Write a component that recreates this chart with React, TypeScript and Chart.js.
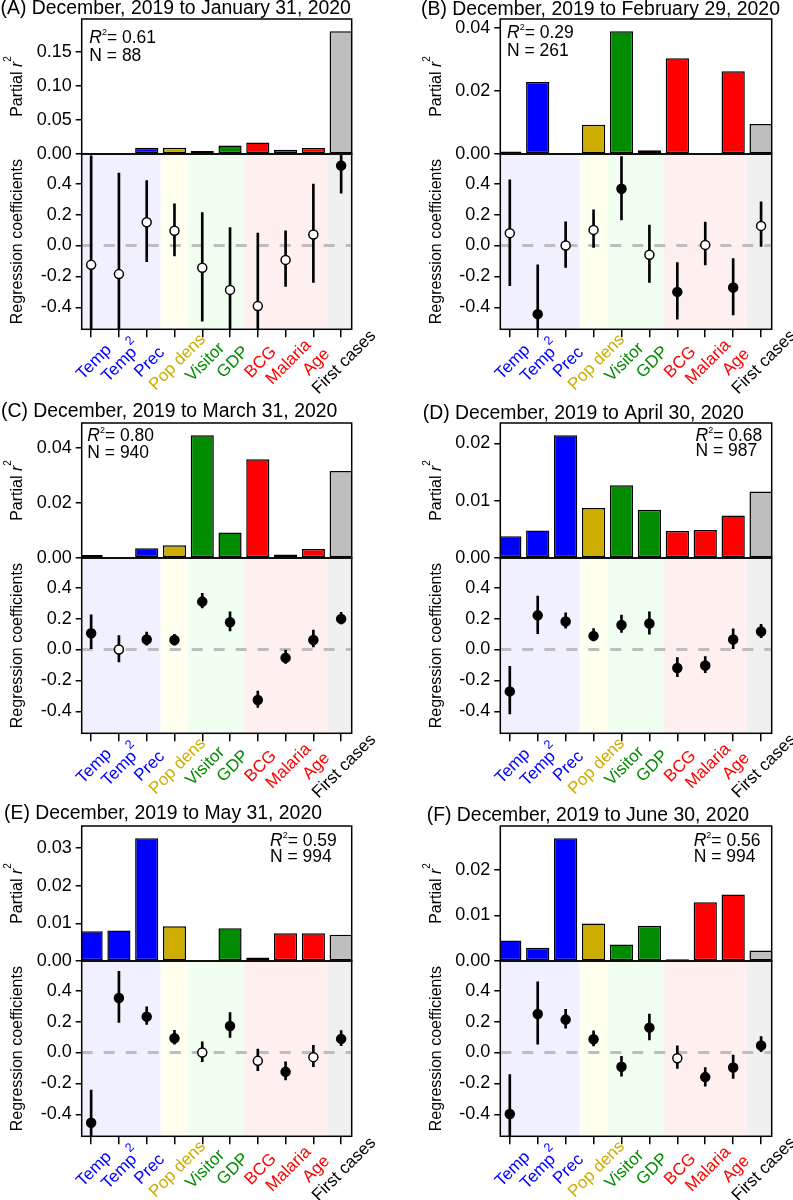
import React, { useEffect, useRef } from "react";
import { Chart, registerables } from "chart.js";

Chart.register(...registerables);

// ---------------- data ----------------
const CATEGORIES = ["Temp", "Temp²", "Prec", "Pop dens", "Visitor", "GDP", "BCG", "Malaria", "Age", "First cases"];
const CATEGORY_GROUP = [0, 0, 0, 1, 2, 2, 3, 3, 3, 4];

const PANEL_TITLES = [
  "(A) December, 2019 to January 31, 2020",
  "(B) December, 2019 to February 29, 2020",
  "(C) December, 2019 to March 31, 2020",
  "(D) December, 2019 to April 30, 2020",
  "(E) December, 2019 to May 31, 2020",
  "(F) December, 2019 to June 30, 2020",
];
const MODEL_R2 = ["0.61", "0.29", "0.80", "0.68", "0.59", "0.56"];
const MODEL_N = ["88", "261", "940", "987", "994", "994"];

const PARTIAL_R2_A = [0.0004, 0.0015, 0.0093, 0.0093, 0.0044, 0.0123, 0.0167, 0.0064, 0.0088, 0.18];
const PARTIAL_R2_B = [0.0008, 0.0229, 0.0, 0.0093, 0.039, 0.0012, 0.0304, 0.0002, 0.0263, 0.0095];
const PARTIAL_R2_C = [0.0011, 0.0, 0.0035, 0.0046, 0.0446, 0.0093, 0.0359, 0.0013, 0.0033, 0.0316];
const PARTIAL_R2_D = [0.0038, 0.0048, 0.0214, 0.0087, 0.0127, 0.0084, 0.0047, 0.0049, 0.0074, 0.0116];
const PARTIAL_R2_E = [0.0079, 0.0081, 0.0326, 0.0092, 0.0, 0.0087, 0.0009, 0.0074, 0.0074, 0.007];
const PARTIAL_R2_F = [0.0045, 0.0029, 0.0269, 0.0082, 0.0036, 0.0077, 0.0004, 0.0129, 0.0146, 0.0023];

const COEF_A = [-0.125, -0.185, 0.151, 0.095, -0.144, -0.287, -0.392, -0.093, 0.071, 0.517];
const LOWER_A = [-0.83, -0.84, -0.104, -0.067, -0.49, -0.69, -0.864, -0.265, -0.239, 0.338];
const UPPER_A = [0.58, 0.468, 0.42, 0.27, 0.213, 0.116, 0.08, 0.095, 0.397, 0.696];
const SIG_A = [0, 0, 0, 0, 0, 0, 0, 0, 0, 1];

const COEF_B = [0.08, -0.444, 0.0, 0.101, 0.367, -0.06, -0.3, 0.004, -0.272, 0.127];
const LOWER_B = [-0.259, -0.76, -0.142, -0.013, 0.166, -0.239, -0.477, -0.125, -0.449, -0.006];
const UPPER_B = [0.425, -0.125, 0.153, 0.231, 0.576, 0.132, -0.11, 0.151, -0.084, 0.282];
const SIG_B = [0, 1, 0, 0, 1, 0, 1, 0, 1, 0];

const COEF_C = [0.105, 0.0, 0.065, 0.062, 0.31, 0.176, -0.327, -0.054, 0.062, 0.198];
const LOWER_C = [0.006, -0.08, 0.028, 0.028, 0.269, 0.12, -0.374, -0.09, 0.017, 0.166];
const UPPER_C = [0.224, 0.09, 0.112, 0.099, 0.363, 0.243, -0.269, -0.004, 0.125, 0.241];
const SIG_C = [1, 0, 1, 1, 1, 1, 1, 1, 1, 1];

const COEF_D = [-0.271, 0.221, 0.181, 0.088, 0.159, 0.168, -0.12, -0.103, 0.065, 0.116];
const LOWER_D = [-0.417, 0.103, 0.138, 0.056, 0.11, 0.099, -0.176, -0.15, 0.006, 0.077];
const UPPER_D = [-0.108, 0.346, 0.237, 0.135, 0.222, 0.243, -0.052, -0.045, 0.133, 0.163];
const SIG_D = [1, 1, 1, 1, 1, 1, 1, 1, 1, 1];

const COEF_E = [-0.454, 0.353, 0.232, 0.092, 0.0, 0.172, -0.054, -0.125, -0.03, 0.088];
const LOWER_E = [-0.665, 0.194, 0.181, 0.054, -0.06, 0.097, -0.118, -0.178, -0.092, 0.045];
const UPPER_E = [-0.243, 0.525, 0.295, 0.144, 0.069, 0.258, 0.022, -0.06, 0.047, 0.142];
const SIG_E = [1, 1, 1, 1, 0, 1, 0, 1, 0, 1];

const COEF_F = [-0.398, 0.249, 0.213, 0.086, -0.092, 0.161, -0.037, -0.159, -0.097, 0.045];
const LOWER_F = [-0.654, 0.054, 0.157, 0.043, -0.153, 0.082, -0.103, -0.217, -0.168, 0.0];
const UPPER_F = [-0.142, 0.458, 0.28, 0.14, -0.024, 0.249, 0.043, -0.097, -0.017, 0.103];
const SIG_F = [1, 1, 1, 1, 1, 1, 0, 1, 1, 1];

const BAR_TICKS_A = [0, 0.05, 0.1, 0.15];
const BAR_TICKS_B = [0, 0.01, 0.02, 0.03, 0.04];
const BAR_TICKS_C = [0, 0.01, 0.02, 0.03, 0.04];
const BAR_TICKS_D = [0, 0.01, 0.02];
const BAR_TICKS_E = [0, 0.01, 0.02, 0.03];
const BAR_TICKS_F = [0, 0.01, 0.02];
const COEF_TICKS = [-0.4, -0.2, 0, 0.2, 0.4];
const COEF_LIMITS = [-0.5, 0.55];

const PANELS = [
  { partial: PARTIAL_R2_A, coef: COEF_A, lower: LOWER_A, upper: UPPER_A, sig: SIG_A, barTicks: BAR_TICKS_A },
  { partial: PARTIAL_R2_B, coef: COEF_B, lower: LOWER_B, upper: UPPER_B, sig: SIG_B, barTicks: BAR_TICKS_B },
  { partial: PARTIAL_R2_C, coef: COEF_C, lower: LOWER_C, upper: UPPER_C, sig: SIG_C, barTicks: BAR_TICKS_C },
  { partial: PARTIAL_R2_D, coef: COEF_D, lower: LOWER_D, upper: UPPER_D, sig: SIG_D, barTicks: BAR_TICKS_D },
  { partial: PARTIAL_R2_E, coef: COEF_E, lower: LOWER_E, upper: UPPER_E, sig: SIG_E, barTicks: BAR_TICKS_E },
  { partial: PARTIAL_R2_F, coef: COEF_F, lower: LOWER_F, upper: UPPER_F, sig: SIG_F, barTicks: BAR_TICKS_F },
];

// ---------------- styles / layout ----------------
const FONT = '"Liberation Sans", Arial, Helvetica, sans-serif';
const GROUP_COLORS = ["#0000FF", "#CDAD00", "#008B00", "#FF0000", "#BEBEBE"];
const GROUP_TEXT = ["#0000FF", "#CDAD00", "#008B00", "#FF0000", "#000000"];
const GROUP_BG = ["#F0F0FF", "#FFFFF0", "#F0FFF0", "#FFF0F0", "#F0F0F0"];

const BAR_H = 135;
const COEF_H = 175.3;
const Y_AXIS_W = 81.7;

const LAYOUT = [
  { left: 0, top: 0, width: 396, height: 396, padTop: 19, padL: 0, padR: 44.3, titleX: 0.5, titleY: 14.3, noteRight: false, noteX: 7.6, noteY: [42.7, 61] },
  { left: 396, top: 0, width: 397, height: 396, padTop: 19, padL: 22.6, padR: 21.3, titleX: 25, titleY: 15, noteRight: false, noteX: 6.7, noteY: [37.7, 55.7] },
  { left: 0, top: 398, width: 396, height: 402, padTop: 25, padL: 0, padR: 44.3, titleX: 1, titleY: 19.3, noteRight: false, noteX: 5.6, noteY: [43, 60.3] },
  { left: 396, top: 398, width: 397, height: 402, padTop: 25, padL: 22.6, padR: 21.3, titleX: 26.7, titleY: 21.3, noteRight: true, noteX: -76.2, noteY: [42.7, 58] },
  { left: 0, top: 800, width: 396, height: 400, padTop: 26, padL: 0, padR: 44.3, titleX: 4, titleY: 18.7, noteRight: true, noteX: -81.7, noteY: [46, 61.7] },
  { left: 396, top: 800, width: 397, height: 400, padTop: 26, padL: 22.6, padR: 21.3, titleX: 30.7, titleY: 20.7, noteRight: true, noteX: -78, noteY: [46, 61.7] },
];

type Part = { text: string; size: number; italic?: boolean; rise?: number };
const fontOf = (p: Part) => `${p.italic ? "italic " : ""}${p.size}px ${FONT}`;
function partsWidth(ctx: CanvasRenderingContext2D, parts: Part[]) {
  let w = 0;
  for (const p of parts) {
    ctx.font = fontOf(p);
    w += ctx.measureText(p.text).width;
  }
  return w;
}
function drawParts(ctx: CanvasRenderingContext2D, parts: Part[], x: number, y: number) {
  let cx = x;
  for (const p of parts) {
    ctx.font = fontOf(p);
    ctx.fillText(p.text, cx, y - (p.rise || 0));
    cx += ctx.measureText(p.text).width;
  }
}
function labelParts(label: string): Part[] {
  if (label.endsWith("²")) {
    return [
      { text: label.slice(0, -1), size: 17 },
      { text: "2", size: 12.5, rise: 9.5 },
    ];
  }
  return [{ text: label, size: 17 }];
}

function buildConfig(pi: number) {
  const d = PANELS[pi];
  const lay = LAYOUT[pi];
  const span = COEF_LIMITS[1] - COEF_LIMITS[0];
  const coefMin = COEF_LIMITS[0] - 0.04 * span;
  const coefMax = COEF_LIMITS[1] + 0.04 * span;
  const barMax = Math.max(...d.partial) * 1.1;
  const areaBottom = lay.padTop + BAR_H + COEF_H;

  const decor = {
    id: "panelDecor",
    beforeDatasetsDraw(chart: any) {
      const { ctx, chartArea } = chart;
      const xs = chart.scales.x;
      const yc = chart.scales.yCoef;
      ctx.save();
      // group background shading in the coefficient panel
      const breaks: number[] = [];
      const groupsInOrder: number[] = [CATEGORY_GROUP[0]];
      for (let i = 1; i < CATEGORY_GROUP.length; i++) {
        if (CATEGORY_GROUP[i] !== CATEGORY_GROUP[i - 1]) {
          breaks.push(i - 0.5);
          groupsInOrder.push(CATEGORY_GROUP[i]);
        }
      }
      groupsInOrder.forEach((g, k) => {
        const x0 = k === 0 ? chartArea.left : xs.getPixelForValue(breaks[k - 1]);
        const x1 = k === groupsInOrder.length - 1 ? chartArea.right : xs.getPixelForValue(breaks[k]);
        ctx.fillStyle = GROUP_BG[g];
        ctx.fillRect(x0, yc.top, x1 - x0, yc.bottom - yc.top);
      });
      // dashed zero line
      const y0 = yc.getPixelForValue(0);
      ctx.strokeStyle = "#BDBDBD";
      ctx.lineWidth = 3;
      ctx.setLineDash([11, 11]);
      ctx.beginPath();
      ctx.moveTo(chartArea.left, y0);
      ctx.lineTo(chartArea.right, y0);
      ctx.stroke();
      ctx.restore();
    },
    afterDraw(chart: any) {
      const { ctx, chartArea } = chart;
      const xs = chart.scales.x;
      const yb = chart.scales.yBar;
      const yc = chart.scales.yCoef;
      ctx.save();
      // boxes
      ctx.strokeStyle = "#000";
      ctx.lineWidth = 1.5;
      ctx.strokeRect(chartArea.left, yb.top, chartArea.right - chartArea.left, yb.bottom - yb.top);
      ctx.strokeRect(chartArea.left, yc.top, chartArea.right - chartArea.left, yc.bottom - yc.top);
      ctx.fillStyle = "#000";
      // title
      ctx.textBaseline = "alphabetic";
      ctx.textAlign = "left";
      ctx.font = `19.4px ${FONT}`;
      ctx.fillText(PANEL_TITLES[pi], lay.titleX, lay.titleY);
      // R2 / N note
      const nx = lay.noteRight ? chartArea.right + lay.noteX : chartArea.left + lay.noteX;
      drawParts(ctx, [
        { text: "R", size: 17.5, italic: true },
        { text: "2", size: 9, rise: 8 },
        { text: "= " + MODEL_R2[pi], size: 17.5 },
      ], nx, lay.noteY[0]);
      drawParts(ctx, [{ text: "N = " + MODEL_N[pi], size: 17.5 }], nx, lay.noteY[1]);
      // y-axis titles
      const tx = chartArea.left - 64;
      const t1: Part[] = [
        { text: "Partial ", size: 16 },
        { text: "r", size: 16, italic: true },
        { text: "2", size: 10, rise: 9 },
      ];
      ctx.save();
      ctx.translate(tx, (yb.top + yb.bottom) / 2);
      ctx.rotate(-Math.PI / 2);
      ctx.textBaseline = "middle";
      drawParts(ctx, t1, -partsWidth(ctx, t1) / 2, 0);
      ctx.restore();
      const t2: Part[] = [{ text: "Regression coefficients", size: 16 }];
      ctx.save();
      ctx.translate(tx, (yc.top + yc.bottom) / 2);
      ctx.rotate(-Math.PI / 2);
      ctx.textBaseline = "middle";
      drawParts(ctx, t2, -partsWidth(ctx, t2) / 2, 0);
      ctx.restore();
      // rotated category labels
      CATEGORIES.forEach((lab, i) => {
        const parts = labelParts(lab);
        ctx.save();
        ctx.translate(xs.getPixelForValue(i) + 3, chartArea.bottom + 33);
        ctx.rotate(-Math.PI / 4);
        ctx.textBaseline = "middle";
        ctx.fillStyle = GROUP_TEXT[CATEGORY_GROUP[i]];
        drawParts(ctx, parts, -partsWidth(ctx, parts) / 2, 0);
        ctx.restore();
      });
      ctx.restore();
    },
  };

  return {
    type: "bar",
    data: {
      datasets: [
        {
          type: "line",
          label: "Regression coefficient",
          data: d.coef.map((v, i) => ({ x: i, y: v })),
          xAxisID: "x",
          yAxisID: "yCoef",
          showLine: false,
          pointRadius: 4.5,
          pointHoverRadius: 4.5,
          pointBorderWidth: 1.5,
          pointBorderColor: "#000",
          pointBackgroundColor: d.sig.map((s) => (s ? "#000" : "#fff")),
          order: 0,
        },
        {
          type: "bar",
          label: "95% CI",
          data: d.lower.map((lo, i) => ({ x: i, y: [Math.max(lo, coefMin), Math.min(d.upper[i], coefMax)] })),
          xAxisID: "x",
          yAxisID: "yCoef",
          backgroundColor: "#000",
          borderWidth: 0,
          barThickness: 2,
          grouped: false,
          order: 1,
        },
        {
          type: "bar",
          label: "Partial r²",
          data: d.partial.map((v, i) => ({ x: i, y: v })),
          xAxisID: "x",
          yAxisID: "yBar",
          backgroundColor: CATEGORY_GROUP.map((g) => GROUP_COLORS[g]),
          borderColor: "#000",
          borderWidth: 1.5,
          borderSkipped: false,
          grouped: false,
          barPercentage: 0.833,
          categoryPercentage: 1,
          order: 2,
        },
      ],
    },
    options: {
      animation: false,
      responsive: false,
      devicePixelRatio: 1,
      events: [],
      layout: { padding: { left: lay.padL, right: lay.padR, top: lay.padTop, bottom: 0 } },
      plugins: { legend: { display: false }, tooltip: { enabled: false }, title: { display: false } },
      scales: {
        x: {
          type: "linear",
          position: "bottom",
          min: -0.34,
          max: 9.38,
          offset: false,
          afterBuildTicks: (s: any) => {
            s.ticks = CATEGORIES.map((_, i) => ({ value: i }));
          },
          ticks: { display: false },
          grid: { offset: false, drawOnChartArea: false, drawTicks: true, tickLength: 8, color: "#000", lineWidth: 1.5 },
          border: { display: false },
          afterFit: (s: any) => {
            s.height = lay.height - areaBottom;
          },
        },
        yBar: {
          type: "linear",
          position: "left",
          stack: "panel",
          stackWeight: BAR_H,
          weight: 1,
          min: 0,
          max: barMax,
          afterBuildTicks: (s: any) => {
            s.ticks = d.barTicks.map((v) => ({ value: v }));
          },
          ticks: { callback: (v: any) => Number(v).toFixed(2), color: "#000", font: { family: FONT, size: 18 }, padding: 4 },
          grid: { drawOnChartArea: false, drawTicks: true, tickLength: 6, color: "#000", lineWidth: 1.5 },
          border: { display: false },
          afterFit: (s: any) => {
            s.width = Y_AXIS_W;
          },
        },
        yCoef: {
          type: "linear",
          position: "left",
          stack: "panel",
          stackWeight: COEF_H,
          weight: 0,
          min: coefMin,
          max: coefMax,
          afterBuildTicks: (s: any) => {
            s.ticks = COEF_TICKS.map((v) => ({ value: v }));
          },
          ticks: { callback: (v: any) => Number(v).toFixed(1), color: "#000", font: { family: FONT, size: 18 }, padding: 4 },
          grid: { drawOnChartArea: false, drawTicks: true, tickLength: 6, color: "#000", lineWidth: 1.5 },
          border: { display: false },
          afterFit: (s: any) => {
            s.width = Y_AXIS_W;
          },
        },
      },
    },
    plugins: [decor],
  };
}

function Panel({ index }: { index: number }) {
  const ref = useRef<HTMLCanvasElement>(null);
  const lay = LAYOUT[index];
  useEffect(() => {
    const chart = new Chart(ref.current as HTMLCanvasElement, buildConfig(index) as any);
    return () => chart.destroy();
  }, [index]);
  return (
    <canvas
      ref={ref}
      width={lay.width}
      height={lay.height}
      style={{ position: "absolute", left: lay.left, top: lay.top, width: lay.width, height: lay.height }}
    />
  );
}

export default function App() {
  return (
    <div style={{ position: "absolute", left: 0, top: 0, width: 793, height: 1200, background: "#fff", overflow: "hidden" }}>
      {PANELS.map((_, i) => (
        <Panel key={i} index={i} />
      ))}
    </div>
  );
}
